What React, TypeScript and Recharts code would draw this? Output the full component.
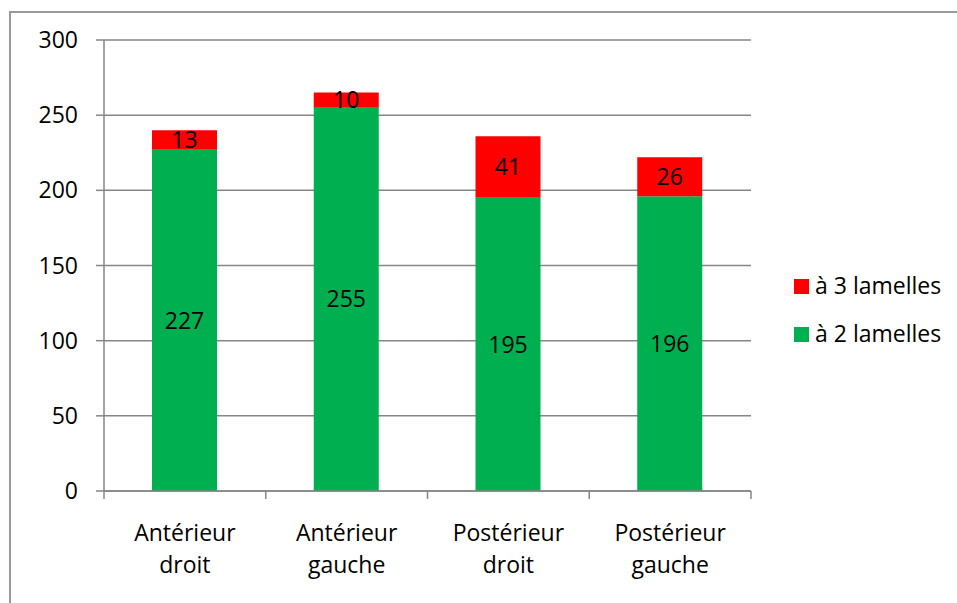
import React from 'react';
import { BarChart, Bar, XAxis, YAxis, CartesianGrid, LabelList } from 'recharts';

const categories = ['Antérieur droit', 'Antérieur gauche', 'Postérieur droit', 'Postérieur gauche'];
const deuxLamelles = [227, 255, 195, 196];
const troisLamelles = [13, 10, 41, 26];
const yTicks = [0, 50, 100, 150, 200, 250, 300];
const seriesNames = { deux: 'à 2 lamelles', trois: 'à 3 lamelles' };
const seriesColors = { deux: '#00B050', trois: '#FF0000' };

const data = categories.map((c, i) => ({ name: c, deux: deuxLamelles[i], trois: troisLamelles[i] }));

const FONT = '"Open Sans", sans-serif';
const GRAY = '#868686';

const W = 957;
const H = 603;
const PLOT_LEFT = 104;
const PLOT_RIGHT = 751;
const PLOT_TOP = 40;
const PLOT_BOTTOM = 491;

const XTick = (props: any) => {
  const { x, y, payload, index } = props;
  const half = payload && payload.offset ? payload.offset : (PLOT_RIGHT - PLOT_LEFT) / categories.length / 2;
  const words = String(payload.value).split(' ');
  return (
    <g>
      <line x1={x - half} x2={x - half} y1={y} y2={y + 8} stroke={GRAY} strokeWidth={1.5} />
      {index === categories.length - 1 && (
        <line x1={x + half} x2={x + half} y1={y} y2={y + 8} stroke={GRAY} strokeWidth={1.5} />
      )}
      <text x={x} y={y + 50} textAnchor="middle" fill="#000" fontSize={23} fontFamily={FONT}>
        {words[0]}
      </text>
      <text x={x} y={y + 82} textAnchor="middle" fill="#000" fontSize={23} fontFamily={FONT}>
        {words.slice(1).join(' ')}
      </text>
    </g>
  );
};

const legendItems = [
  { key: 'trois', name: seriesNames.trois, color: seriesColors.trois },
  { key: 'deux', name: seriesNames.deux, color: seriesColors.deux },
];

export default function App() {
  return (
    <div style={{ position: 'absolute', left: 0, top: 0, width: W, height: H, overflow: 'hidden', background: '#fff' }}>
      <div
        style={{
          position: 'absolute',
          left: 9,
          top: 11,
          width: 2000,
          height: 2000,
          borderLeft: '2px solid #9a9a9a',
          borderTop: '2px solid #9a9a9a',
        }}
      />
      <div style={{ position: 'absolute', left: 0, top: 0 }}>
        <BarChart
          width={W}
          height={H}
          data={data}
          margin={{ top: PLOT_TOP, right: W - PLOT_RIGHT, left: 0, bottom: 0 }}
          style={{ fontFamily: FONT }}
        >
          <CartesianGrid horizontal vertical={false} stroke={GRAY} strokeWidth={1.5} />
          <XAxis
            dataKey="name"
            height={H - PLOT_BOTTOM}
            axisLine={{ stroke: GRAY, strokeWidth: 1.5 }}
            tickLine={false}
            tickSize={0}
            tickMargin={0}
            interval={0}
            tick={<XTick />}
          />
          <YAxis
            width={PLOT_LEFT}
            domain={[0, 300]}
            ticks={yTicks}
            interval={0}
            axisLine={{ stroke: GRAY, strokeWidth: 1.5 }}
            tickLine={{ stroke: GRAY, strokeWidth: 1.5 }}
            tickSize={8}
            tickMargin={18}
            tick={{ fill: '#000', fontSize: 23, fontFamily: FONT }}
          />
          <Bar dataKey="deux" stackId="a" fill={seriesColors.deux} barSize={65} isAnimationActive={false}>
            <LabelList dataKey="deux" position="center" fill="#000" fontSize={23} fontFamily={FONT} />
          </Bar>
          <Bar dataKey="trois" stackId="a" fill={seriesColors.trois} barSize={65} isAnimationActive={false}>
            <LabelList dataKey="trois" position="center" fill="#000" fontSize={23} fontFamily={FONT} />
          </Bar>
        </BarChart>
      </div>
      {legendItems.map((item, i) => (
        <div key={item.key} style={{ position: 'absolute', left: 794, top: 270 + i * 47.5, height: 30, fontFamily: FONT, fontSize: 23, lineHeight: '30px', color: '#000', whiteSpace: 'nowrap' }}>
          <span style={{ position: 'absolute', left: 0, top: 9, width: 15, height: 15, background: item.color }} />
          <span style={{ position: 'absolute', left: 21, top: 0 }}>{item.name}</span>
        </div>
      ))}
    </div>
  );
}
